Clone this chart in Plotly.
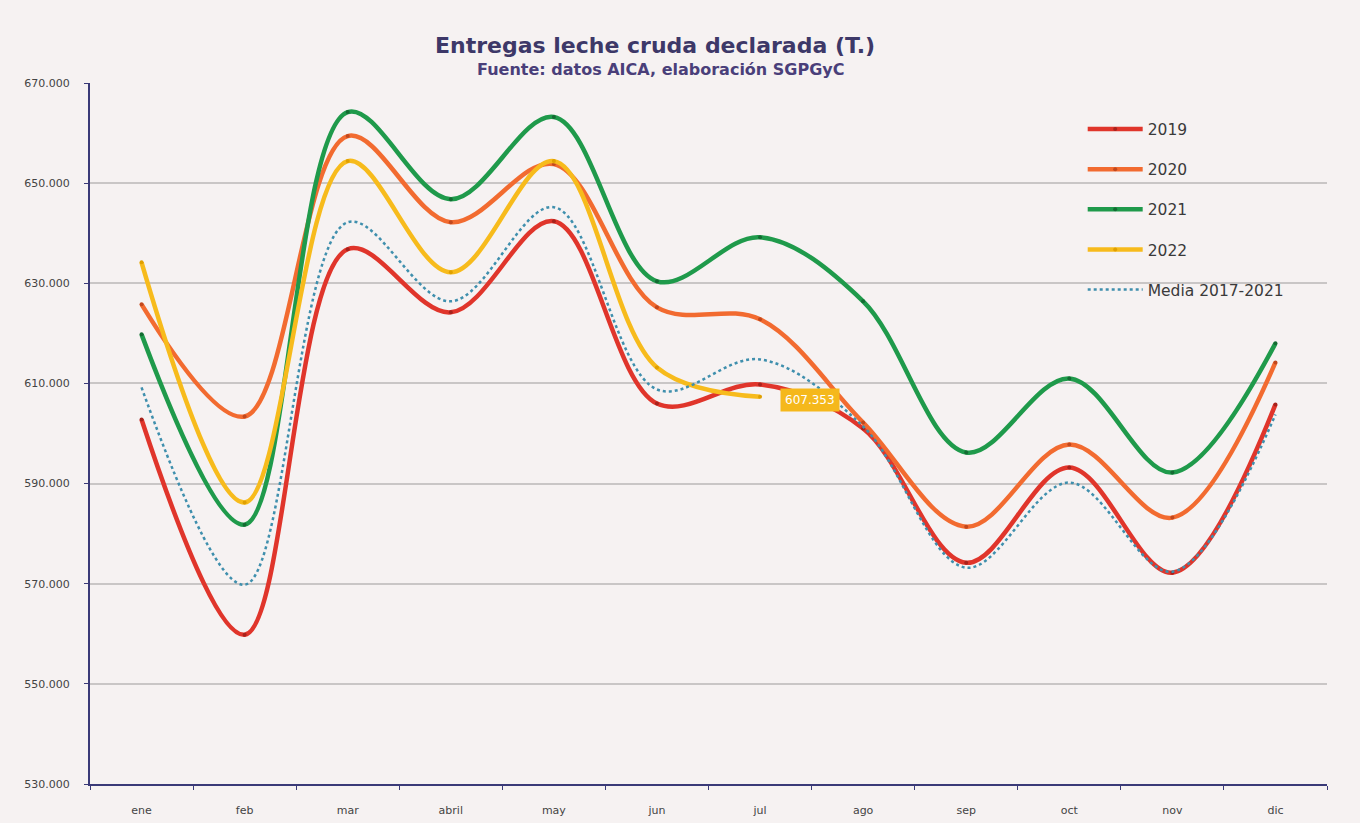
import plotly.graph_objects as go

months = ["ene", "feb", "mar", "abril", "may", "jun", "jul", "ago", "sep", "oct", "nov", "dic"]

v2019 = [602800, 559800, 636800, 624200, 642400, 606000, 609800, 601000, 574200, 593200, 572200, 605800]
v2020 = [625800, 603400, 659400, 642200, 653800, 625200, 622800, 602200, 581400, 597800, 583200, 614200]
v2021 = [619800, 581800, 664200, 646800, 663200, 630400, 639200, 626400, 596200, 611000, 592200, 618000]
v2022 = [634200, 586200, 654400, 632200, 654400, 613200, 607353]
media = [609200, 569800, 642200, 626400, 645200, 608800, 614800, 601400, 573200, 590200, 572400, 603800]

series = [
    ("2019", v2019, "#e0352b", "#a8221c"),
    ("2020", v2020, "#f26b30", "#c2481d"),
    ("2021", v2021, "#1f9a4b", "#136b32"),
    ("2022", v2022, "#f7bb1c", "#e0a000"),
]

fig = go.Figure()
for name, vals, col, mcol in series:
    fig.add_trace(go.Scatter(
        x=months[:len(vals)], y=vals, name=name, mode="lines+markers",
        line=dict(color=col, width=4.5, shape="spline", smoothing=1.0),
        marker=dict(size=4, color=mcol),
        legendgroup=name,
    ))

fig.add_trace(go.Scatter(
    x=months, y=media, name="Media 2017-2021", mode="lines",
    line=dict(color="#3f8fad", width=2.5, shape="spline", smoothing=1.0, dash="dot"),
    legendgroup="media",
))

# data label for last 2022 value
fig.add_annotation(
    x=months[len(v2022) - 1], y=v2022[-1], xref="x", yref="y",
    text=f"{v2022[-1]:,}".replace(",", "."), showarrow=False,
    xshift=50, yshift=-3, bgcolor="#f5b81c",
    font=dict(color="white", size=12, family="DejaVu Sans"),
    borderpad=4,
)

fig.add_annotation(
    x=0.457, y=1.054, xref="paper", yref="paper", showarrow=False,
    xanchor="center", yanchor="middle",
    text="<b>Entregas leche cruda declarada (T.)</b>",
    font=dict(size=22, color="#3d3868", family="DejaVu Sans"),
)
fig.add_annotation(
    x=0.462, y=1.019, xref="paper", yref="paper", showarrow=False,
    xanchor="center", yanchor="middle",
    text="<b>Fuente: datos AICA, elaboración SGPGyC</b>",
    font=dict(size=16, color="#4a3f7a", family="DejaVu Sans"),
)

fig.update_layout(
    width=1360, height=823,
    margin=dict(l=90, r=33, t=83, b=39),
    paper_bgcolor="#f6f2f2", plot_bgcolor="#f6f2f2",
    separators=",.",
    showlegend=True,
    legend=dict(
        x=0.8025, y=0.958, xanchor="left", yanchor="top",
        bgcolor="rgba(0,0,0,0)", font=dict(size=15.5, color="#3a3a3a", family="DejaVu Sans"),
        tracegroupgap=17, itemwidth=55,
    ),
    font=dict(family="DejaVu Sans", color="#333"),
)

fig.update_xaxes(
    type="category", range=[-0.5, 11.5], tickson="boundaries",
    ticks="outside", ticklen=4, tickcolor="#3a3a78",
    showline=True, linecolor="#3a3a78", linewidth=2,
    showgrid=False, tickfont=dict(size=11, color="#444"),
    ticklabelstandoff=15, automargin=False,
)
fig.update_yaxes(
    range=[530000, 670000], dtick=20000, tick0=530000,
    tickformat=",d", ticks="outside", ticklen=4, tickcolor="#3a3a78",
    showline=True, linecolor="#3a3a78", linewidth=2,
    showgrid=True, gridcolor="#c9c6c6", gridwidth=1.5,
    zeroline=False, tickfont=dict(size=11, color="#444"),
    ticklabelstandoff=12, automargin=False,
)

fig.write_html("out.html", config={"displayModeBar": False},
               post_script="document.body.style.margin='0';document.body.style.overflow='hidden';")
